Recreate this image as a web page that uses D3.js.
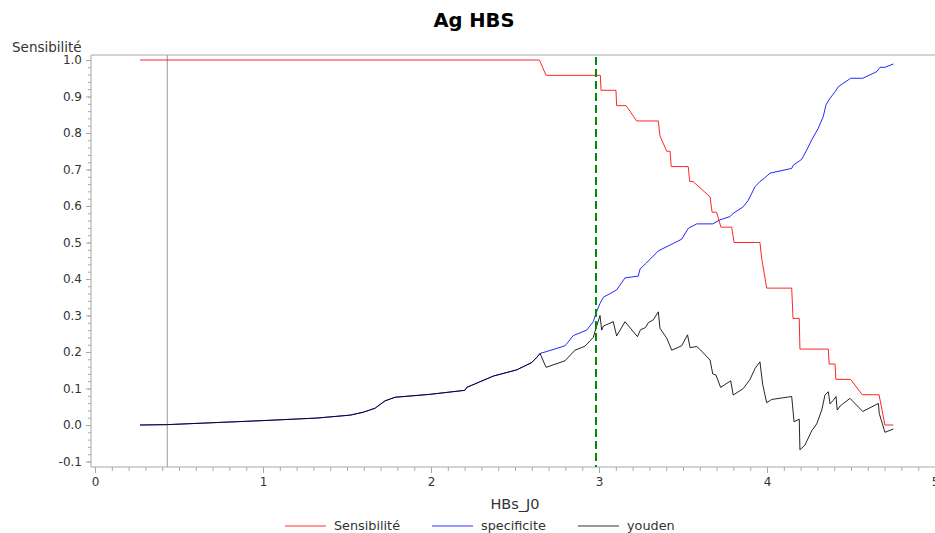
<!DOCTYPE html>
<html><head><meta charset="utf-8">
<script src="https://cdn.jsdelivr.net/npm/d3@7"></script>
<style>
body{margin:0;background:#fff;}
text{font-family:"DejaVu Sans",sans-serif;}
</style></head>
<body><svg id="c" width="935" height="533"></svg>
<script>
const title = "Ag HBS";
const xLabel = "HBs_J0";
const yLabel = "Sensibilité";
const seriesNames = ["Sensibilité", "specificite", "youden"];
const seriesColors = ["#ff0000", "#0000ff", "#000000"];
const xTicks = [0, 1, 2, 3, 4, 5];
const yTicks = [-0.1, 0.0, 0.1, 0.2, 0.3, 0.4, 0.5, 0.6, 0.7, 0.8, 0.9, 1.0];
const yTickLabels = ["-0.1","0.0","0.1","0.2","0.3","0.4","0.5","0.6","0.7","0.8","0.9","1.0"];
const refLineX = 0.43;
const cutoffX = 2.982;

const sensX = [0.268,2.645,2.685,3.008,3.012,3.101,3.105,3.161,3.224,3.353,3.363,3.403,3.423,3.430,3.531,3.540,3.560,3.661,3.673,3.700,3.726,3.790,3.804,3.958,3.968,3.998,4.147,4.155,4.192,4.196,4.365,4.370,4.405,4.410,4.498,4.567,4.667,4.702,4.752];
const sensY = [1.0,1.0,0.958,0.958,0.917,0.917,0.875,0.875,0.833,0.833,0.792,0.750,0.750,0.708,0.708,0.667,0.667,0.625,0.583,0.583,0.542,0.542,0.500,0.500,0.458,0.375,0.375,0.292,0.292,0.208,0.208,0.167,0.167,0.125,0.125,0.083,0.083,0.0,0.0];

const specX = [0.268,0.430,0.998,1.320,1.518,1.597,1.667,1.726,1.786,1.994,2.202,2.213,2.371,2.510,2.599,2.629,2.649,2.679,2.798,2.847,2.927,2.966,2.982,3.006,3.026,3.105,3.155,3.234,3.244,3.282,3.353,3.423,3.492,3.532,3.582,3.677,3.720,3.780,3.799,3.859,3.889,3.929,3.958,3.984,4.018,4.147,4.157,4.207,4.236,4.266,4.305,4.335,4.351,4.375,4.405,4.425,4.498,4.570,4.653,4.673,4.702,4.752];
const specY = [0.0,0.001,0.012,0.019,0.027,0.035,0.046,0.066,0.076,0.084,0.095,0.103,0.134,0.151,0.171,0.185,0.196,0.200,0.217,0.245,0.260,0.283,0.306,0.333,0.350,0.370,0.403,0.408,0.427,0.444,0.477,0.493,0.509,0.539,0.551,0.551,0.562,0.571,0.580,0.598,0.616,0.653,0.667,0.676,0.690,0.703,0.712,0.728,0.753,0.781,0.813,0.845,0.877,0.895,0.913,0.927,0.950,0.950,0.968,0.980,0.980,0.989];

const youdenX = [0.268,0.430,0.998,1.320,1.518,1.597,1.667,1.726,1.786,1.994,2.202,2.213,2.371,2.510,2.599,2.629,2.649,2.685,2.798,2.857,2.917,2.966,2.976,3.006,3.016,3.026,3.085,3.105,3.155,3.229,3.247,3.277,3.293,3.323,3.353,3.363,3.403,3.433,3.492,3.527,3.542,3.582,3.601,3.661,3.677,3.696,3.724,3.784,3.799,3.859,3.899,3.929,3.958,3.974,3.998,4.028,4.147,4.161,4.192,4.196,4.226,4.266,4.296,4.326,4.345,4.365,4.375,4.395,4.411,4.418,4.435,4.494,4.570,4.663,4.668,4.702,4.752];
const youdenY = [0.0,0.001,0.012,0.019,0.027,0.035,0.046,0.066,0.076,0.084,0.095,0.103,0.134,0.151,0.171,0.185,0.196,0.158,0.176,0.205,0.216,0.240,0.256,0.300,0.260,0.271,0.283,0.244,0.283,0.242,0.261,0.267,0.280,0.288,0.310,0.265,0.238,0.205,0.217,0.247,0.212,0.215,0.207,0.178,0.140,0.137,0.103,0.121,0.082,0.100,0.125,0.155,0.173,0.112,0.061,0.070,0.078,0.009,0.016,-0.068,-0.055,-0.016,0.003,0.041,0.082,0.091,0.058,0.068,0.078,0.041,0.052,0.073,0.037,0.059,0.032,-0.020,-0.011];

const svg = d3.select("#c");
const x = d3.scaleLinear().domain([0, 5]).range([95, 935]);
const y = d3.scaleLinear().domain([0, 1]).range([425, 60]);
const pL = 91, pT = 55, pB = 467, pR = 935;
const axisCol = "#a8a8a8", textCol = "#333";

// frame
svg.append("line").attr("x1", pL).attr("x2", pR).attr("y1", pT).attr("y2", pT).attr("stroke", axisCol);
svg.append("line").attr("x1", pL).attr("x2", pL).attr("y1", pT).attr("y2", pB).attr("stroke", axisCol);
svg.append("line").attr("x1", pL).attr("x2", pR).attr("y1", pB).attr("y2", pB).attr("stroke", axisCol);

// y axis
const yMinor = d3.range(-0.1, 1.0001, 0.02);
const gyMinor = svg.append("g").attr("transform", `translate(${pL},0)`)
  .call(d3.axisLeft(y).tickValues(yMinor).tickSize(3).tickFormat(""));
const gy = svg.append("g").attr("transform", `translate(${pL},0)`)
  .call(d3.axisLeft(y).tickValues(yTicks).tickSize(5).tickPadding(4).tickFormat((d, i) => yTickLabels[i]));
[gy, gyMinor].forEach(g => { g.select(".domain").remove(); g.selectAll("line").attr("stroke", axisCol); });
gy.selectAll("text").attr("fill", textCol).style("font-size", "12px").style("font-family", "DejaVu Sans");

// x axis
const xMinor = d3.range(0, 5.0001, 0.1);
const gxMinor = svg.append("g").attr("transform", `translate(0,${pB})`)
  .call(d3.axisBottom(x).tickValues(xMinor).tickSize(4).tickFormat(""));
const gx = svg.append("g").attr("transform", `translate(0,${pB})`)
  .call(d3.axisBottom(x).tickValues(xTicks).tickSize(6).tickPadding(4).tickFormat(d3.format("d")));
[gx, gxMinor].forEach(g => { g.select(".domain").remove(); g.selectAll("line").attr("stroke", axisCol); });
gx.selectAll("text").attr("fill", textCol).style("font-size", "12px").style("font-family", "DejaVu Sans");

// reference line
svg.append("line").attr("x1", x(refLineX)).attr("x2", x(refLineX)).attr("y1", pT).attr("y2", pB)
  .attr("stroke", "#9a9a9a").attr("stroke-width", 1);

const line = d3.line().x(d => x(d[0])).y(d => y(d[1]));
const series = [
  d3.zip(specX, specY),
  d3.zip(youdenX, youdenY),
  d3.zip(sensX, sensY)
];
const cols = [seriesColors[1], seriesColors[2], seriesColors[0]];
series.forEach((s, i) => {
  svg.append("path").datum(s).attr("d", line).attr("fill", "none")
    .attr("stroke", cols[i]).attr("stroke-width", 1).attr("stroke-opacity", 0.85);
});

svg.append("line").attr("x1", x(cutoffX)).attr("x2", x(cutoffX)).attr("y1", pT + 2).attr("y2", pB)
  .attr("stroke", "#008a00").attr("stroke-width", 2).attr("stroke-dasharray", "8,4");

// titles
svg.append("text").attr("x", 474).attr("y", 27).attr("text-anchor", "middle")
  .style("font-size", "19.5px").style("font-weight", "bold").attr("fill", "#000").text(title);
svg.append("text").attr("x", 12).attr("y", 52).style("font-size", "13.5px").attr("fill", textCol).text(yLabel);
svg.append("text").attr("x", 515).attr("y", 509).attr("text-anchor", "middle")
  .style("font-size", "14.5px").attr("fill", textCol).text(xLabel);

// legend
const legX = [285, 432, 578];
seriesNames.forEach((n, i) => {
  svg.append("line").attr("x1", legX[i]).attr("x2", legX[i] + 41).attr("y1", 526).attr("y2", 526)
    .attr("stroke", seriesColors[i]).attr("stroke-opacity", 0.8);
  svg.append("text").attr("x", legX[i] + 49).attr("y", 530).style("font-size", "12.8px")
    .attr("fill", textCol).text(n);
});
</script></body></html>
